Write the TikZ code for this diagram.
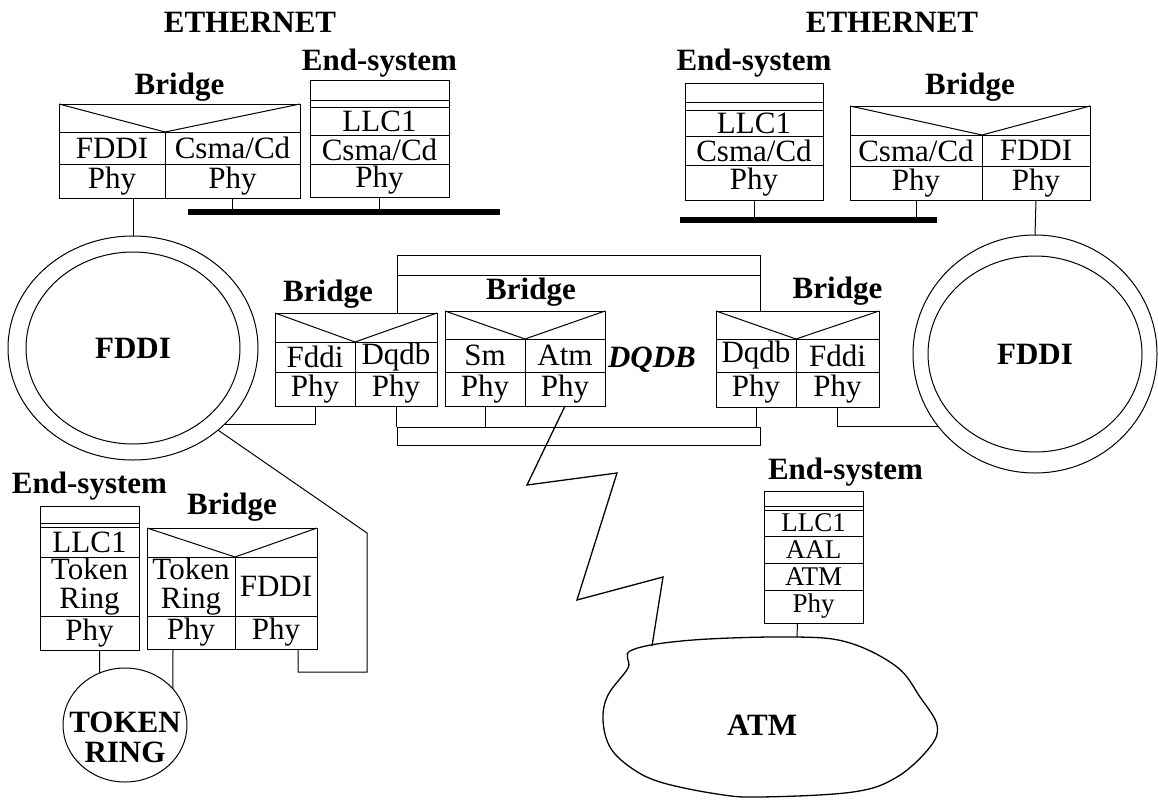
\documentclass[tikz,border=0pt]{standalone}
\usepackage{fontspec}
\setmainfont{Liberation Serif}
\usetikzlibrary{positioning,shapes.geometric,calc}
\newcommand\lyrfont{\fontsize{31}{29}\selectfont}
\newcommand\tagfont{\fontsize{31}{31}\selectfont\bfseries}
\tikzset{
  cell/.style={draw,line width=1pt,inner sep=0pt,outer sep=0pt,align=center,font=\lyrfont},
  atmcell/.style={cell,font=\fontsize{27}{28}\selectfont},
  lbl/.style={inner sep=0pt,font=\tagfont},
  ring/.style={draw,ellipse,line width=1pt,inner sep=0pt,outer sep=0pt,font=\tagfont},
  bus/.style={fill=black,inner sep=0pt,outer sep=0pt,minimum height=6pt},
  rail/.style={draw,line width=1pt,inner sep=0pt,outer sep=0pt},
  wire/.style={line width=1pt}
}

\begin{document}
\begin{tikzpicture}[x=1pt,y=-1pt]
  \useasboundingbox (0,0) rectangle (1158,806);

  % ---- ethernet, left
  \node[lbl] (ethLt) at (250,22) {ETHERNET};
  \node[bus,minimum width=312pt] (ethL) at (344,212) {};

  \node[cell,minimum width=241pt,minimum height=28pt,anchor=north west] (tlB) at (59,104) {};
  \node[cell,minimum width=106pt,minimum height=32pt,below right=0pt and 0pt of tlB.south west] (tlBm1) {FDDI};
  \node[cell,minimum width=135pt,minimum height=32pt,right=0pt of tlBm1] (tlBm2) {Csma/Cd};
  \node[cell,minimum width=106pt,minimum height=34pt,below=0pt of tlBm1] (tlBp1) {Phy};
  \node[cell,minimum width=135pt,minimum height=34pt,below=0pt of tlBm2] (tlBp2) {Phy};
  \draw[wire] (tlB.north west) -- (tlBm1.north east) -- (tlB.north east);
  \node[lbl,above=2pt of tlB] (tlBt) {Bridge};

  \node[cell,minimum width=139pt,minimum height=20pt,anchor=north west] (tlE) at (310,80) {};
  \node[cell,minimum width=139pt,minimum height=7pt,below=0pt of tlE] (tlEd) {};
  \node[cell,minimum width=139pt,minimum height=28pt,below=0pt of tlEd] (tlEl) {LLC1};
  \node[cell,minimum width=139pt,minimum height=29pt,below=0pt of tlEl] (tlEm) {Csma/Cd};
  \node[cell,minimum width=139pt,minimum height=33pt,below=0pt of tlEm] (tlEp) {Phy};
  \node[lbl,above=3pt of tlE] (tlEt) {End-system};

  \draw[wire] (tlBp2.south) -- (tlBp2.south |- ethL.north);
  \draw[wire] (tlEp.south) -- (tlEp.south |- ethL.north);

  % ---- ethernet, right
  \node[lbl] (ethRt) at (892,22) {ETHERNET};
  \node[bus,minimum width=257pt] (ethR) at (808,220) {};

  \node[cell,minimum width=138pt,minimum height=19pt,anchor=north west] (trE) at (685,83) {};
  \node[cell,minimum width=138pt,minimum height=8pt,below=0pt of trE] (trEd) {};
  \node[cell,minimum width=138pt,minimum height=26pt,below=0pt of trEd] (trEl) {LLC1};
  \node[cell,minimum width=138pt,minimum height=29pt,below=0pt of trEl] (trEm) {Csma/Cd};
  \node[cell,minimum width=138pt,minimum height=35pt,below=0pt of trEm] (trEp) {Phy};
  \node[lbl,above=6pt of trE] (trEt) {End-system};

  \node[cell,minimum width=240pt,minimum height=29pt,anchor=north west] (trB) at (850,106) {};
  \node[cell,minimum width=132pt,minimum height=31pt,below right=0pt and 0pt of trB.south west] (trBm1) {Csma/Cd};
  \node[cell,minimum width=108pt,minimum height=31pt,right=0pt of trBm1] (trBm2) {FDDI};
  \node[cell,minimum width=132pt,minimum height=34pt,below=0pt of trBm1] (trBp1) {Phy};
  \node[cell,minimum width=108pt,minimum height=34pt,below=0pt of trBm2] (trBp2) {Phy};
  \draw[wire] (trB.north west) -- (trBm1.north east) -- (trB.north east);
  \node[lbl,above=4pt of trB] (trBt) {Bridge};

  \draw[wire] (trEp.south) -- (trEp.south |- ethR.north);
  \draw[wire] (trBp1.south) -- (trBp1.south |- ethR.north);

  % ---- fddi rings
  \node[ring,minimum width=250pt,minimum height=224pt] (fddiL) at (133,348) {};
  \node[ring,minimum width=214pt,minimum height=192pt] (fddiLin) at (fddiL) {FDDI};
  \node[ring,minimum width=244pt,minimum height=238pt] (fddiR) at (1035,354) {};
  \node[ring,minimum width=214pt,minimum height=196pt] (fddiRin) at (fddiR) {FDDI};

  \draw[wire] ([xshift=21pt]tlBp1.south) -- (fddiL.north);
  \draw[wire] (trBp2.south) -- (fddiR.north);

  % ---- dqdb
  \node[rail,minimum width=363pt,minimum height=20pt] (topbus) at (578.5,265) {};
  \node[rail,minimum width=363pt,minimum height=18pt] (botbus) at (578.5,436) {};
  \node[lbl,font=\tagfont\itshape] (dqdb) at (652,360) {DQDB};

  \node[cell,minimum width=162pt,minimum height=29pt,anchor=north west] (mlB) at (275,313) {};
  \node[cell,minimum width=80pt,minimum height=30pt,below right=0pt and 0pt of mlB.south west] (mlBm1) {Fddi};
  \node[cell,minimum width=82pt,minimum height=30pt,right=0pt of mlBm1] (mlBm2) {Dqdb};
  \node[cell,minimum width=80pt,minimum height=34pt,below=0pt of mlBm1] (mlBp1) {Phy};
  \node[cell,minimum width=82pt,minimum height=34pt,below=0pt of mlBm2] (mlBp2) {Phy};
  \draw[wire] (mlB.north west) -- (mlBm1.north east) -- (mlB.north east);
  \node[lbl,above=4pt of mlB,xshift=-28pt] (mlBt) {Bridge};

  \node[cell,minimum width=160pt,minimum height=28pt,anchor=north west] (mB) at (445,311) {};
  \node[cell,minimum width=80pt,minimum height=33pt,below right=0pt and 0pt of mB.south west] (mBm1) {Sm};
  \node[cell,minimum width=80pt,minimum height=33pt,right=0pt of mBm1] (mBm2) {Atm};
  \node[cell,minimum width=80pt,minimum height=34pt,below=0pt of mBm1] (mBp1) {Phy};
  \node[cell,minimum width=80pt,minimum height=34pt,below=0pt of mBm2] (mBp2) {Phy};
  \draw[wire] (mB.north west) -- (mBm1.north east) -- (mB.north east);
  \node[lbl,above=4pt of mB,xshift=6pt] (mBt) {Bridge};

  \node[cell,minimum width=163pt,minimum height=28pt,anchor=north west] (rB) at (716,311) {};
  \node[cell,minimum width=80pt,minimum height=33pt,below right=0pt and 0pt of rB.south west] (rBm1) {Dqdb};
  \node[cell,minimum width=83pt,minimum height=33pt,right=0pt of rBm1] (rBm2) {Fddi};
  \node[cell,minimum width=80pt,minimum height=35pt,below=0pt of rBm1] (rBp1) {Phy};
  \node[cell,minimum width=83pt,minimum height=35pt,below=0pt of rBm2] (rBp2) {Phy};
  \draw[wire] (rB.north west) -- (rBm1.north east) -- (rB.north east);
  \node[lbl,above=5pt of rB,xshift=40pt] (rBt) {Bridge};

  \draw[wire] (topbus.south west) -- (topbus.south west |- mlB.north);
  \draw[wire] (topbus.south east) -- (topbus.south east |- rB.north);
  \draw[wire] (mlBp2.south) -- (mlBp2.south |- botbus.north);
  \draw[wire] (mBp1.south) -- (mBp1.south |- botbus.north);
  \draw[wire] (rBp1.south) -- (rBp1.south |- botbus.north);
  \draw[wire] (fddiL.-40) -| (mlBp1.south);
  \draw[wire] (rBp2.south) |- (fddiR.-143);

  % ---- token ring
  \node[cell,minimum width=99pt,minimum height=17pt,anchor=north west] (blE) at (40,506) {};
  \node[cell,minimum width=99pt,minimum height=4pt,below=0pt of blE] (blEd) {};
  \node[cell,minimum width=99pt,minimum height=30pt,below=0pt of blEd] (blEl) {LLC1};
  \node[cell,minimum width=99pt,minimum height=59pt,below=0pt of blEl] (blEm) {Token\\Ring};
  \node[cell,minimum width=99pt,minimum height=34pt,below=0pt of blEm] (blEp) {Phy};
  \node[lbl,above=6pt of blE] (blEt) {End-system};

  \node[cell,minimum width=170pt,minimum height=29pt,anchor=north west] (blB) at (147,528) {};
  \node[cell,minimum width=88pt,minimum height=59pt,below right=0pt and 0pt of blB.south west] (blBm1) {Token\\Ring};
  \node[cell,minimum width=82pt,minimum height=59pt,right=0pt of blBm1] (blBm2) {FDDI};
  \node[cell,minimum width=88pt,minimum height=33pt,below=0pt of blBm1] (blBp1) {Phy};
  \node[cell,minimum width=82pt,minimum height=33pt,below=0pt of blBm2] (blBp2) {Phy};
  \draw[wire] (blB.north west) -- (blBm1.north east) -- (blB.north east);
  \node[lbl,above=6pt of blB] (blBt) {Bridge};

  \node[ring,minimum width=124pt,minimum height=114pt] (tr) at (125,725) {};
  \node[lbl,align=center,font=\fontsize{31}{30}\selectfont\bfseries] (trt) at (125,737) {TOKEN\\RING};

  \draw[wire] ([xshift=10pt]blEp.south) -- (tr.116);
  \draw[wire] ([xshift=-18pt]blBp1.south) -- (tr.37);
  \draw[wire] (fddiL.-44) -- (367,533) -- (367,672) -| ([xshift=22pt]blBp2.south);

  % ---- atm
  \node[atmcell,minimum width=99pt,minimum height=15pt,anchor=north west] (aE) at (764,491) {};
  \node[atmcell,minimum width=99pt,minimum height=4pt,below=0pt of aE] (aEd) {};
  \node[atmcell,minimum width=99pt,minimum height=26pt,below=0pt of aEd] (aEl) {LLC1};
  \node[atmcell,minimum width=99pt,minimum height=27pt,below=0pt of aEl] (aEa) {AAL};
  \node[atmcell,minimum width=99pt,minimum height=27pt,below=0pt of aEa] (aEm) {ATM};
  \node[atmcell,minimum width=99pt,minimum height=33pt,below=0pt of aEm] (aEp) {Phy};
  \node[lbl,above=5pt of aE,xshift=32pt] (aEt) {End-system};

  \draw[wire,line width=1.3pt] plot[smooth cycle,tension=0.6] coordinates {
    (632,650) (693,640) (797,637) (850,643) (897,667) (920,697) (937,725)
    (930,747) (897,777) (853,792) (760,797) (717,794) (660,782) (630,767)
    (610,747) (603,720) (608,695) (628,668)};
  \node[lbl] (atm) at (762,725) {ATM};
  \coordinate (atmA) at (652,646);
  \coordinate (atmB) at (797,637);

  \draw[wire,line width=1.3pt] (mBp2.south) -- (527,485) -- (617,473) -- (577,600) -- (663,577) -- (atmA);
  \draw[wire] ([xshift=-16pt]aEp.south) -- (atmB);
\end{tikzpicture}
\end{document}
